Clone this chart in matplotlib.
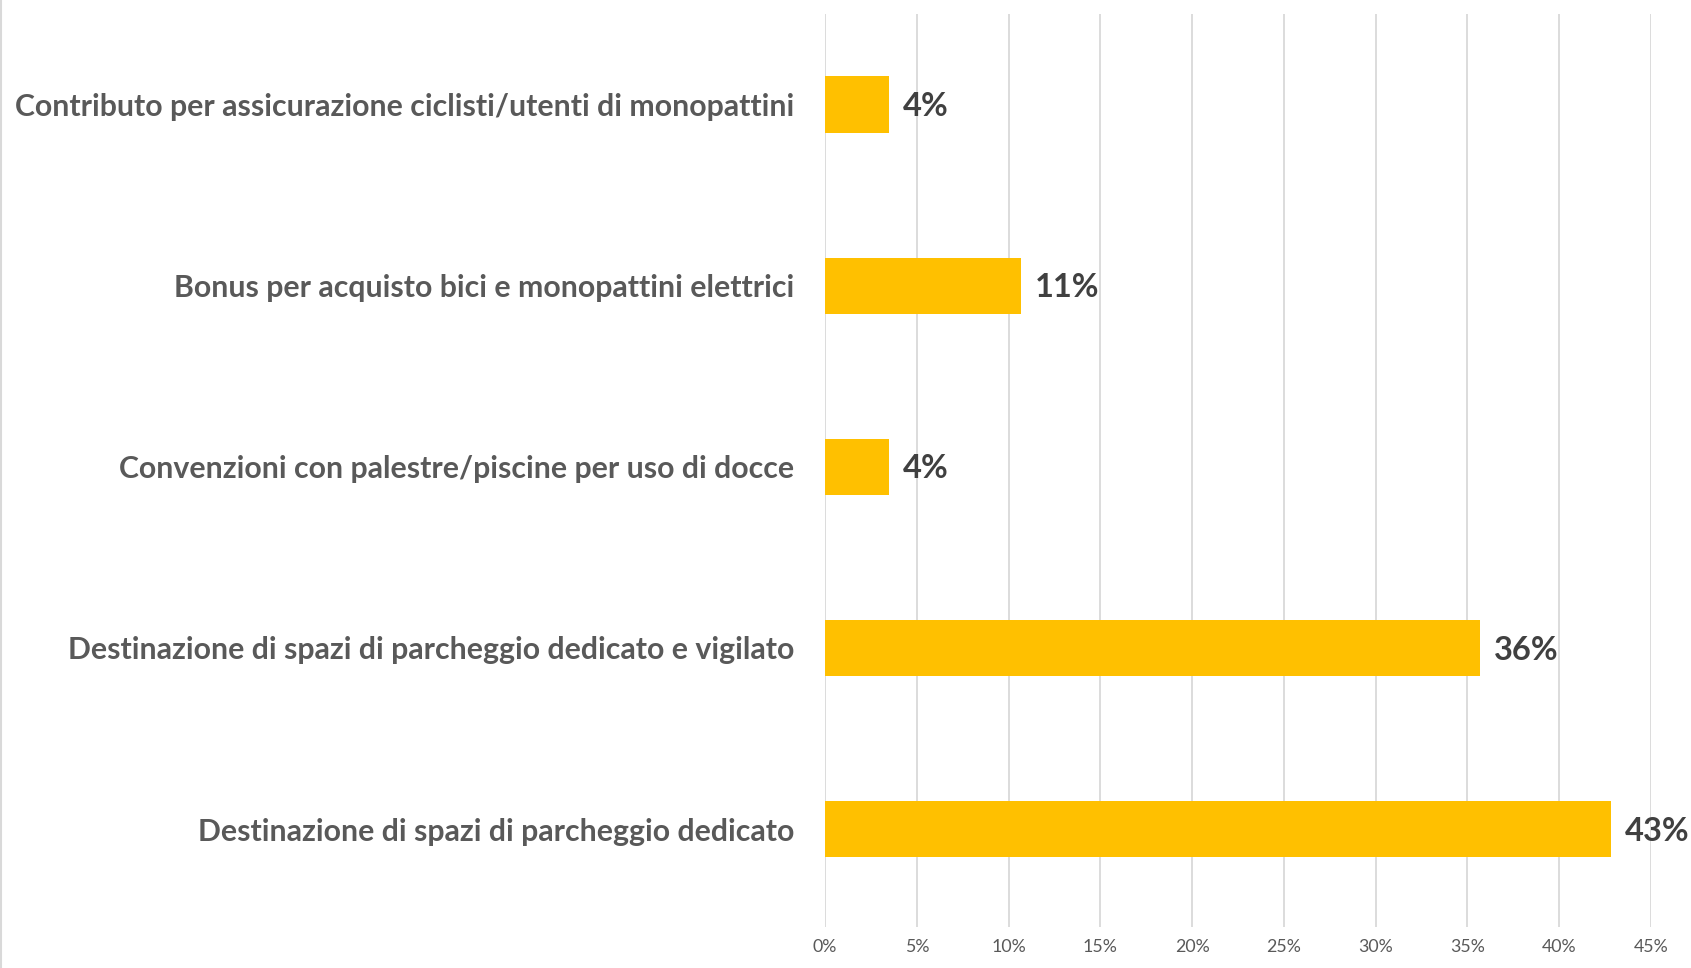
import matplotlib.pyplot as plt
from matplotlib.lines import Line2D
from matplotlib.ticker import PercentFormatter

# Data (top to bottom as shown)
categories = [
    "Contributo per assicurazione ciclisti/utenti di monopattini",
    "Bonus per acquisto bici e monopattini elettrici",
    "Convenzioni con palestre/piscine per uso di docce",
    "Destinazione di spazi di parcheggio dedicato e vigilato",
    "Destinazione di spazi di parcheggio dedicato",
]
values = [0.035, 0.107, 0.035, 0.357, 0.428]
value_labels = ["4%", "11%", "4%", "36%", "43%"]
xticks = [0, 0.05, 0.10, 0.15, 0.20, 0.25, 0.30, 0.35, 0.40, 0.45]

plt.rcParams['font.family'] = ['Lato', 'DejaVu Sans']

fig = plt.figure(figsize=(16.91, 9.68), dpi=100)
# plot area: x 825..1651 px, y 14..927 px
ax = fig.add_axes([0.4879, 0.0424, 0.4884, 0.9432])

ypos = list(range(len(categories)))
ax.barh(ypos, values, height=0.31, color='#FFC000', zorder=3)

for y, v, lab in zip(ypos, values, value_labels):
    ax.annotate(lab, (v, y), xytext=(10, -1.5), textcoords='offset points',
                va='center', ha='left', fontsize=23.5, fontweight='bold',
                color='#404040')

ax.set_xlim(0, 0.45)
ax.set_ylim(4.54, -0.5)
ax.set_xticks(xticks)
ax.xaxis.set_major_formatter(PercentFormatter(1.0, decimals=0))
ax.set_yticks(ypos)
ax.set_yticklabels(categories, fontsize=21.8, fontweight='bold', color='#595959')

ax.grid(axis='x', color='#D9D9D9', linewidth=1.3, zorder=0)
for s in ax.spines.values():
    s.set_visible(False)
ax.tick_params(axis='both', length=0)
ax.tick_params(axis='x', labelsize=12.8, labelcolor='#595959', pad=9)
ax.tick_params(axis='y', pad=22)

# chart border on the left
fig.add_artist(Line2D([0.0008, 0.0008], [0, 1], color='#D9D9D9', linewidth=1.5,
                      transform=fig.transFigure))

fig.savefig("out.png", dpi=100)
